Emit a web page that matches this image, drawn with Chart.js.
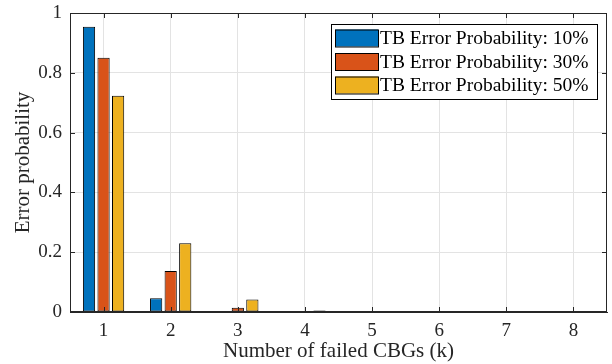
<!DOCTYPE html>
<html lang="en">
<head>
    <meta charset="UTF-8">
    <title>Error probability vs failed CBGs</title>
    <script src="https://cdn.jsdelivr.net/npm/chart.js"></script>
    <style>
        body {
            margin: 0;
            background: white;
        }
    </style>
</head>
<body>
    <canvas id="errChart" width="612" height="364"></canvas>
    <script>
        const categories = ["1", "2", "3", "4", "5", "6", "7", "8"];
        const seriesLabels = ["TB Error Probability: 10%", "TB Error Probability: 30%", "TB Error Probability: 50%"];
        const p10 = [0.954, 0.046, 0.001, 0.001, 0.0003, 0, 0, 0];
        const p30 = [0.850, 0.137, 0.014, 0.001, 0.0005, 0.0002, 0, 0];
        const p50 = [0.723, 0.230, 0.042, 0.005, 0.001, 0.0005, 0.0002, 0];
        const colors = ["#0072BD", "#D95319", "#EDB120"];

        const serif = "'Liberation Serif', 'DejaVu Serif', serif";
        const axisColor = "#262626";

        // MATLAB-style box, inward ticks and legend inside the axes
        const boxPlugin = {
            id: "boxPlugin",
            afterDraw(chart) {
                const ctx = chart.ctx;
                const a = chart.chartArea;
                const xs = chart.scales.x, ys = chart.scales.y;
                ctx.save();
                ctx.strokeStyle = axisColor;
                ctx.lineWidth = 1;
                ctx.strokeRect(a.left + 0.5, a.top + 0.5, a.right - a.left - 1, a.bottom - a.top - 1);
                ctx.beginPath();
                categories.forEach((c, i) => {
                    const x = Math.round(xs.getPixelForValue(i)) + 0.5;
                    ctx.moveTo(x, a.bottom); ctx.lineTo(x, a.bottom - 5);
                    ctx.moveTo(x, a.top); ctx.lineTo(x, a.top + 5);
                });
                ys.ticks.forEach(t => {
                    const y = Math.round(ys.getPixelForValue(t.value)) + 0.5;
                    ctx.moveTo(a.left, y); ctx.lineTo(a.left + 5, y);
                    ctx.moveTo(a.right, y); ctx.lineTo(a.right - 5, y);
                });
                ctx.stroke();

                // legend
                const lx = a.right - 276, ly = a.top + 11, lw = 266, lh = 75;
                ctx.fillStyle = "white";
                ctx.fillRect(lx, ly, lw, lh);
                ctx.strokeStyle = "#000";
                ctx.strokeRect(lx + 0.5, ly + 0.5, lw, lh);
                ctx.font = "19.5px " + serif;
                ctx.textBaseline = "middle";
                chart.data.datasets.forEach((ds, i) => {
                    const cy = ly + 14 + i * 23.5;
                    ctx.fillStyle = ds.backgroundColor;
                    ctx.fillRect(lx + 4, cy - 8.5, 43, 17);
                    ctx.strokeStyle = "#000";
                    ctx.strokeRect(lx + 4.5, cy - 8, 43, 17);
                    ctx.fillStyle = "#000";
                    ctx.fillText(ds.label, lx + 49, cy + 1);
                });
                ctx.restore();
            }
        };

        const ctx = document.getElementById("errChart").getContext("2d");
        new Chart(ctx, {
            type: "bar",
            data: {
                labels: categories,
                datasets: [p10, p30, p50].map((d, i) => ({
                    label: seriesLabels[i],
                    data: d,
                    backgroundColor: colors[i],
                    borderColor: "#000",
                    borderWidth: 1,
                    borderSkipped: false,
                    categoryPercentage: 0.65,
                    barPercentage: 0.84
                }))
            },
            options: {
                responsive: false,
                animation: false,
                devicePixelRatio: 1,
                layout: { padding: { top: 13, right: 5, left: 0, bottom: 0 } },
                plugins: {
                    legend: { display: false },
                    tooltip: { enabled: false }
                },
                scales: {
                    x: {
                        offset: true,
                        grid: { offset: false, color: "#e3e3e3", drawTicks: false },
                        border: { color: axisColor },
                        ticks: { color: axisColor, padding: 8, font: { family: serif, size: 19 } },
                        title: {
                            display: true,
                            text: "Number of failed CBGs (k)",
                            color: axisColor,
                            font: { family: serif, size: 21 },
                            padding: { top: 0, bottom: 0 }
                        },
                        afterFit(scale) {
                            scale.height = 52;
                            scale.paddingLeft = 0;
                            scale.paddingRight = 0;
                        }
                    },
                    y: {
                        min: 0,
                        max: 1,
                        grid: { color: "#e3e3e3", drawTicks: false },
                        border: { color: axisColor },
                        ticks: {
                            stepSize: 0.2,
                            color: axisColor,
                            padding: 8,
                            font: { family: serif, size: 19 },
                            callback: v => String(Number(v.toFixed(1)))
                        },
                        title: {
                            display: true,
                            text: "Error probability",
                            color: axisColor,
                            font: { family: serif, size: 21 },
                            padding: { top: 11, bottom: 0 }
                        },
                        afterFit(scale) {
                            scale.width = 70;
                            scale.paddingTop = 0;
                            scale.paddingBottom = 0;
                        }
                    }
                }
            },
            plugins: [boxPlugin]
        });
    </script>
</body>
</html>
